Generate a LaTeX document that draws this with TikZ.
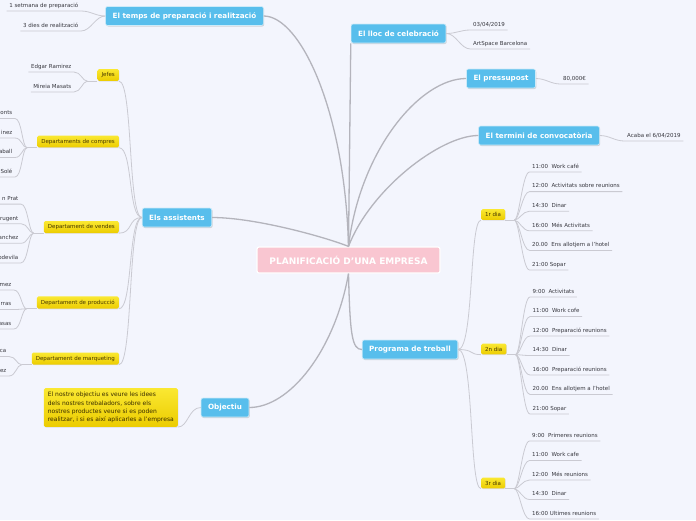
\documentclass[tikz,border=0pt]{standalone}
\usepackage{fontspec}
\setmainfont{DejaVu Sans}
\usetikzlibrary{shapes,arrows.meta,positioning,calc,shadows}

\definecolor{mapBg}{RGB}{243,245,253}
\definecolor{topicBlue}{RGB}{88,190,236}
\definecolor{centerPink}{RGB}{249,198,209}
\definecolor{subTop}{RGB}{250,232,50}
\definecolor{subBottom}{RGB}{236,204,0}
\definecolor{branchGray}{RGB}{180,180,188}
\definecolor{twigGray}{RGB}{202,202,210}
\definecolor{subText}{RGB}{70,55,0}
\definecolor{leafText}{RGB}{55,55,62}

\begin{document}
\begin{tikzpicture}[
    x=1pt, y=-1pt,
    centerNode/.style={
        rectangle, rounded corners=2pt, fill=centerPink, draw=white, line width=1.2pt,
        minimum width=183pt, minimum height=26pt, text=white,
        font=\fontsize{9}{10}\selectfont\bfseries
    },
    topicNode/.style={
        rectangle, rounded corners=2pt, fill=topicBlue, draw=white!70!topicBlue, line width=0.6pt,
        text=white, inner xsep=7pt, minimum height=19pt,
        font=\fontsize{7.2}{8}\selectfont\bfseries,
        drop shadow={opacity=0.3, shadow xshift=0.8pt, shadow yshift=-1pt}
    },
    subNode/.style={
        rectangle, rounded corners=1.5pt, top color=subTop, bottom color=subBottom,
        text=subText, inner xsep=4pt, minimum height=10.5pt,
        font=\fontsize{5.5}{6.5}\selectfont,
        drop shadow={opacity=0.2, shadow xshift=0.5pt, shadow yshift=-0.7pt}
    },
    leafNode/.style={
        inner xsep=2.5pt, inner ysep=2pt, text height=4.2pt, text depth=1.5pt,
        text=leafText, font=\fontsize{5.5}{6.5}\selectfont
    },
    branchLine/.style={draw=branchGray, line width=1.3pt},
    twigLine/.style={draw=twigGray, line width=0.8pt}
]

\path[use as bounding box, fill=mapBg] (0,0) rectangle (696,520);

% Nodes
\node[centerNode] (plan) at (348.5,260) {PLANIFICACIÓ D'UNA EMPRESA};

\node[topicNode] (temps) at (184.5,16) {El temps de preparació i realització};
\node[topicNode] (lloc) at (398.5,33.5) {El lloc de celebració};
\node[topicNode] (press) at (501,78.5) {El pressupost};
\node[topicNode] (termini) at (539,135.5) {El termini de convocatòria};
\node[topicNode] (assist) at (177,217.5) {Els assistents};
\node[topicNode] (prog) at (410,349.5) {Programa de treball};
\node[topicNode] (obj) at (225,407.5) {Objectiu};

\node[subNode, anchor=east] (jefes) at (119,75) {Jefes};
\node[subNode, anchor=east] (compres) at (119,141.5) {Departaments de compres};
\node[subNode, anchor=east] (vendes) at (119,227) {Departament de vendes};
\node[subNode, anchor=east] (produccio) at (119,302.5) {Departament de producció};
\node[subNode, anchor=east] (marqueting) at (119,358.5) {Departament de marqueting};
\node[subNode, anchor=west] (dia1) at (481,214.5) {1r dia};
\node[subNode, anchor=west] (dia2) at (481,349) {2n dia};
\node[subNode, anchor=west] (dia3) at (481,483) {3r dia};

\node[subNode, anchor=east, align=left, inner sep=4pt, text=subText!80!black,
      font=\fontsize{6}{8.3}\selectfont] (nota) at (178,407.5) {
    El nostre objectiu es veure les idees\\
    dels nostres trebaladors, sobre els\\
    nostres productes veure si es poden\\
    realitzar, i si es així aplicarles a l'empresa
};

% Leaves
\node[leafNode, anchor=south east] (temps1) at (81,11) {1 setmana de preparació};
\node[leafNode, anchor=south east] (temps2) at (81,31) {3 dies de realització};
\node[leafNode, anchor=south east] (jefes1) at (74,72) {Edgar Ramirez};
\node[leafNode, anchor=south east] (jefes2) at (74,92) {Mireia Masats};
\node[leafNode, anchor=south west] (lloc1) at (470.5,30) {03/04/2019};
\node[leafNode, anchor=south west] (lloc2) at (470.5,49) {ArtSpace Barcelona};
\node[leafNode, anchor=south west] (press1) at (560.5,84) {80,000€};
\node[leafNode, anchor=south west] (termini1) at (624.5,141) {Acaba el 6/04/2019};

\foreach \t [count=\i] in {onts, inez, aball, Solé}
    \node[leafNode, anchor=south east] (compres\i) at (15,{99+19.5*\i}) {\t};
\foreach \t [count=\i] in {n Prat, rugent, anchez, odevila}
    \node[leafNode, anchor=south east] (vendes\i) at (21,{184.5+19.6*\i}) {\t};
\foreach \t [count=\i] in {mez, rras, asas}
    \node[leafNode, anchor=south east] (produccio\i) at (14,{270.5+19.5*\i}) {\t};
\foreach \t [count=\i] in {ca, ez}
    \node[leafNode, anchor=south east] (marqueting\i) at (9,{337+19.5*\i}) {\t};

\foreach \t [count=\i] in {11:00\ \ Work café, 12:00\ \ Activitats sobre reunions,
        14:30\ \ Dinar, 16:00\ \ Més Activitats, 20.00\ \ Ens allotjem a l'hotel, 21:00 Sopar}
    \node[leafNode, anchor=south west] (dia1\i) at (529.5,{152.4+19.6*\i}) {\t};
\foreach \t [count=\i] in {9:00\ \ Activitats, 11:00\ \ Work cofe, 12:00\ \ Preparació reunions,
        14:30\ \ Dinar, 16:00\ \ Preparació reunions, 20.00\ \ Ens allotjem a l'hotel, 21:00 Sopar}
    \node[leafNode, anchor=south west] (dia2\i) at (530,{277.5+19.5*\i}) {\t};
\foreach \t [count=\i] in {9:00\ \ Primeres reunions, 11:00\ \ Work cafe, 12:00\ \ Més reunions,
        14:30\ \ Dinar, 16:00 Ultimes reunions}
    \node[leafNode, anchor=south west] (dia3\i) at (529.5,{421.5+19.5*\i}) {\t};

% Branches
\draw[branchLine] (plan.north) .. controls (345,110) and (300,16) .. (temps.east);
\draw[branchLine] (plan.north) -- (lloc.south west);
\draw[branchLine] (plan.north) .. controls (360,150) and (420,78.5) .. (press.west);
\draw[branchLine] (plan.north) .. controls (370,190) and (440,135.5) .. (termini.west);
\draw[branchLine] (plan.north) .. controls (325,237) and (255,217.5) .. (assist.east);
\draw[branchLine] (plan.south) .. controls (350,335) and (352,349.5) .. (prog.west);
\draw[branchLine] (plan.south) .. controls (335,350) and (290,407.5) .. (obj.east);

\foreach \s in {jefes, compres, vendes, produccio, marqueting}
    \draw[twigLine] (assist.west) .. controls +(-14,0) and +(14,0) .. (\s.south east);
\foreach \s in {dia1, dia2, dia3}
    \draw[twigLine] (prog.east) .. controls +(16,0) and +(-12,0) .. (\s.south west);
\draw[twigLine] (obj.west) .. controls +(-12,0) and +(10,0) .. (nota.south east);

% Twigs
\foreach \l in {temps1, temps2}
    \draw[twigLine] (temps.west) .. controls +(-10,0) and +(10,0) .. (\l.south east) -- (\l.south west);
\foreach \l in {lloc1, lloc2}
    \draw[twigLine] (lloc.east) .. controls +(10,0) and +(-10,0) .. (\l.south west) -- (\l.south east);
\draw[twigLine] (press.east) .. controls +(10,0) and +(-10,0) .. (press1.south west) -- (press1.south east);
\draw[twigLine] (termini.east) .. controls +(10,0) and +(-10,0) .. (termini1.south west) -- (termini1.south east);

\foreach \s/\n in {jefes/2, compres/4, vendes/4, produccio/3, marqueting/2} {
    \draw[twigLine] (\s.south west) -- ++(-10,0) coordinate (\s J);
    \foreach \i in {1,...,\n}
        \draw[twigLine] (\s J) .. controls +(-5,0) and +(7,0) .. (\s\i.south east) -- (\s\i.south west);
}
\foreach \s/\n in {dia1/6, dia2/7, dia3/5} {
    \draw[twigLine] (\s.south east) -- ++(9,0) coordinate (\s J);
    \foreach \i in {1,...,\n}
        \draw[twigLine] (\s J) .. controls +(5,0) and +(-7,0) .. (\s\i.south west) -- (\s\i.south east);
}

\end{tikzpicture}
\end{document}
